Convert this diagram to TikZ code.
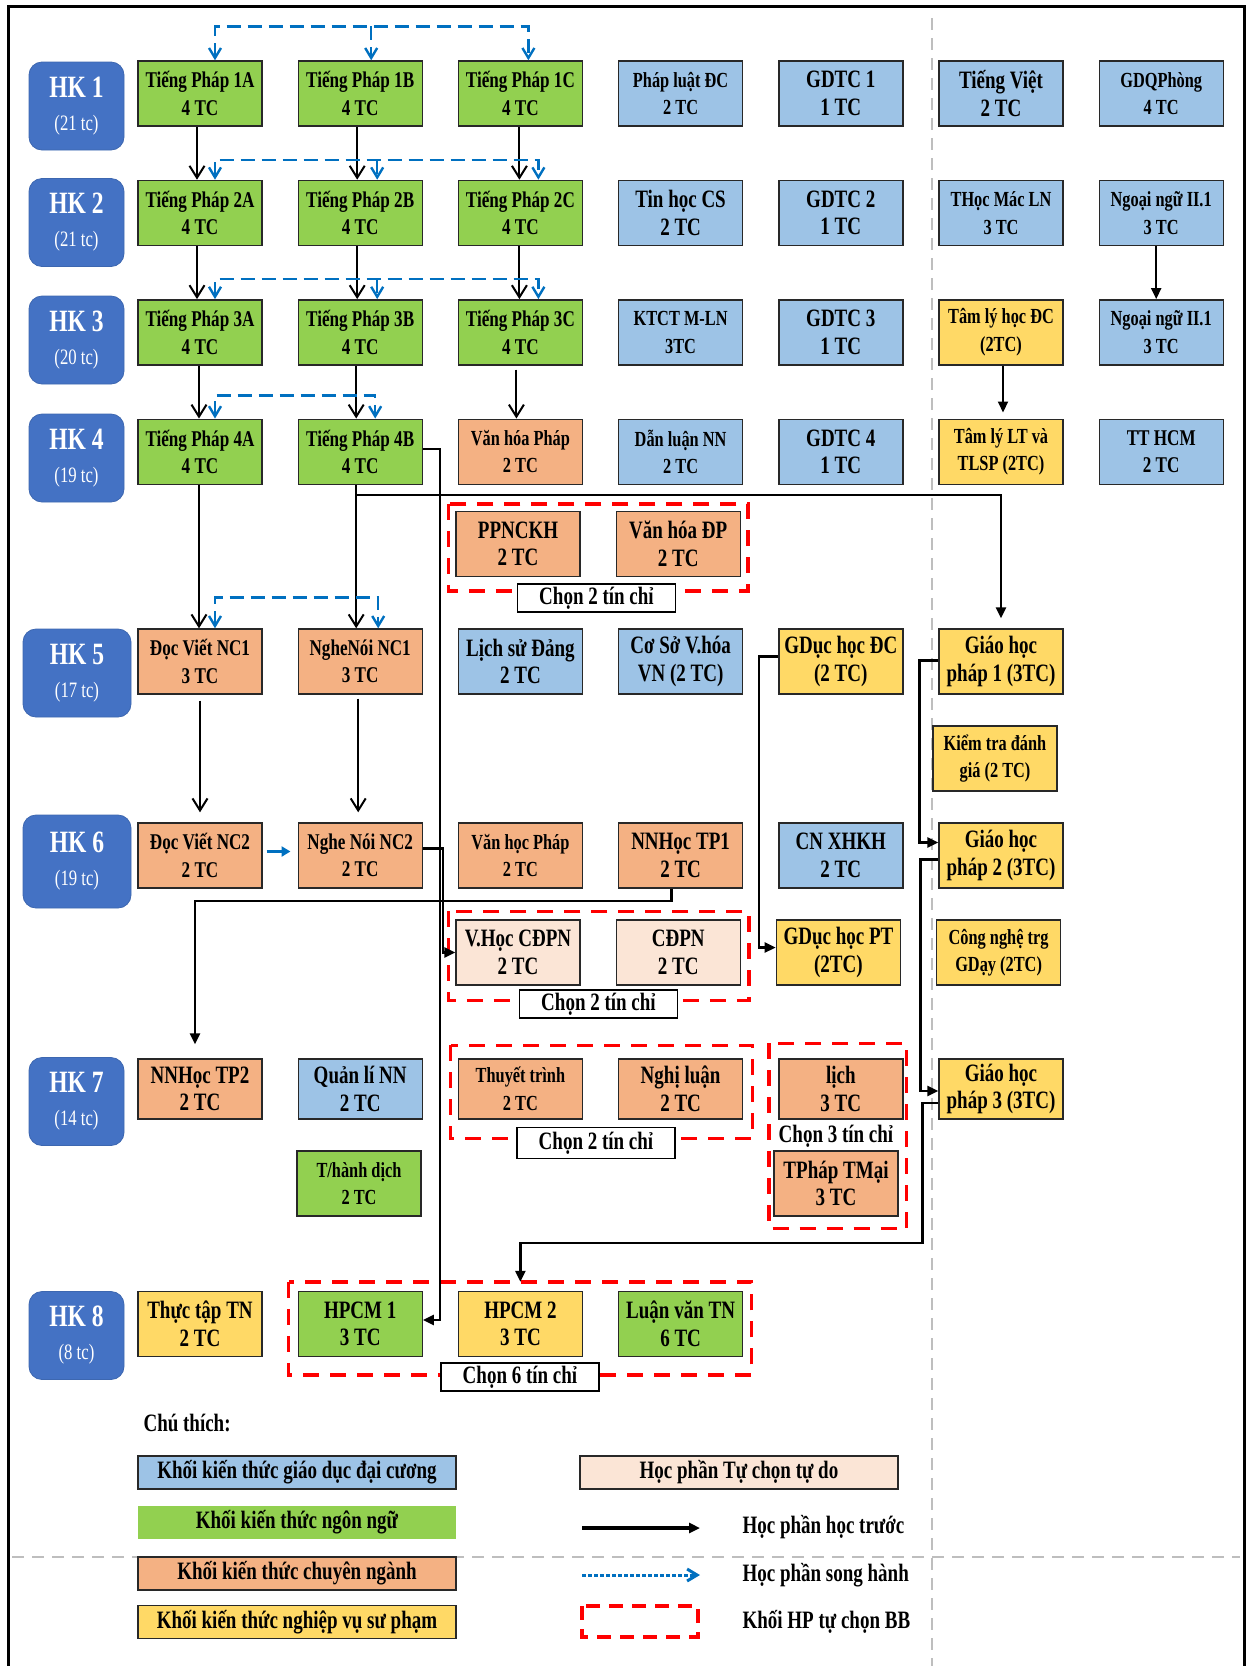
\documentclass[tikz,border=0pt]{standalone}
\usepackage{fontspec}
\setmainfont[FakeStretch=0.76]{Liberation Serif}
\usepackage{tikz}
\usetikzlibrary{
  arrows.meta,
  positioning,
  calc,
  backgrounds
}
\definecolor{HKBlue}{RGB}{68,114,196}
\definecolor{GenBlue}{RGB}{157,195,230}
\definecolor{LangGreen}{RGB}{146,208,80}
\definecolor{MajorOrange}{RGB}{244,177,131}
\definecolor{PedYellow}{RGB}{255,217,102}
\definecolor{FreePink}{RGB}{251,229,214}
\definecolor{CoBlue}{RGB}{0,112,192}
\definecolor{ChoiceRed}{RGB}{255,0,0}
\definecolor{DivGray}{RGB}{190,190,190}
\definecolor{BoxLine}{RGB}{40,40,40}
\newcommand{\fbig}{\fontsize{25}{27.5}\selectfont\bfseries}
\newcommand{\fnorm}{\fontsize{22.5}{27.5}\selectfont\bfseries}
\newcommand{\fsmall}{\fontsize{21.5}{27.5}\selectfont\bfseries}
\newcommand{\flegend}{\fontsize{25}{28}\selectfont\bfseries}
\newcommand{\fhk}{\fontsize{31}{33}\selectfont\bfseries}
\tikzset{
  course/.style={draw=BoxLine,line width=1.4pt,minimum width=124pt,minimum height=65pt,inner sep=0pt,align=center,font=\fnorm},
  genbox/.style={course,fill=GenBlue},
  langbox/.style={course,fill=LangGreen},
  majorbox/.style={course,fill=MajorOrange},
  pedbox/.style={course,fill=PedYellow},
  freebox/.style={course,fill=FreePink},
  hkbox/.style={fill=HKBlue,draw=HKBlue!90!black,line width=0.8pt,rounded corners=13pt,minimum width=95pt,minimum height=88pt,inner sep=0pt,align=center,text=white,font=\fontsize{22}{33}\selectfont},
  prereq/.style={-{Straight Barb[length=12pt,width=15pt]},line width=2pt,draw=black},
  coreq/.style={{Straight Barb[length=10pt,width=12pt]}-{Straight Barb[length=10pt,width=12pt]},line width=2.4pt,draw=CoBlue,dash pattern=on 14pt off 7pt},
  coreqone/.style={-{Straight Barb[length=10pt,width=12pt]},line width=2.4pt,draw=CoBlue,dash pattern=on 14pt off 7pt},
  coarrow/.style={-{Triangle[length=9pt,width=10pt]},line width=3pt,draw=CoBlue},
  linkarrow/.style={-{Triangle[length=11pt,width=10pt]},line width=2.4pt,draw=black},
  choiceframe/.style={draw=ChoiceRed,line width=3.5pt,dash pattern=on 16pt off 11pt},
  choicelabel/.style={draw=black,line width=1.2pt,fill=white,minimum width=158pt,minimum height=28pt,inner sep=0pt,font=\fbig},
  divider/.style={draw=DivGray,line width=1.5pt,dash pattern=on 12pt off 8pt},
  legendbox/.style={draw=BoxLine,line width=1.4pt,minimum width=318pt,minimum height=33pt,inner sep=0pt,font=\flegend},
  legendtext/.style={anchor=west,font=\flegend}
}

\begin{document}
\begin{tikzpicture}[x=1pt,y=-1pt,node distance=53pt and 34.8pt]
\useasboundingbox (0,0) rectangle (1250,1666);
\begin{scope}[on background layer]
\draw[divider] (932,18) -- (932,1666);
\draw[divider] (12,1557) -- (1240,1557);
\end{scope}
\draw[line width=3pt] (8,1666) -- (8,6) -- (1244,6) -- (1244,1666);

\node[hkbox] (hk1) at (76.5,106) {{\fhk HK 1}\\(21 tc)};
\node[hkbox] (hk2) at (76.5,222.5) {{\fhk HK 2}\\(21 tc)};
\node[hkbox] (hk3) at (76.5,340) {{\fhk HK 3}\\(20 tc)};
\node[hkbox] (hk4) at (76.5,458) {{\fhk HK 4}\\(19 tc)};
\node[hkbox, minimum width=108pt] (hk5) at (77,673) {{\fhk HK 5}\\(17 tc)};
\node[hkbox, minimum width=108pt, minimum height=93pt] (hk6) at (77,861.5) {{\fhk HK 6}\\(19 tc)};
\node[hkbox] (hk7) at (76.5,1101.5) {{\fhk HK 7}\\(14 tc)};
\node[hkbox] (hk8) at (76.5,1335.5) {{\fhk HK 8}\\(8 tc)};

\node[langbox] (t1a) at (200,93.5) {Tiếng Pháp 1A\\4 TC};
\node[langbox, right=of t1a] (t1b) {Tiếng Pháp 1B\\4 TC};
\node[langbox, right=of t1b] (t1c) {Tiếng Pháp 1C\\4 TC};
\node[genbox, right=of t1c, font=\fsmall] (plc) {Pháp luật ĐC\\2 TC};
\node[genbox, right=of plc, font=\fbig] (gdtc1) {GDTC 1\\1 TC};
\node[genbox, right=of gdtc1, font=\fbig] (tviet) {Tiếng Việt\\2 TC};
\node[genbox, right=of tviet, font=\fsmall] (gdqp) {GDQPhòng\\4 TC};

\node[langbox, below=of t1a] (t2a) {Tiếng Pháp 2A\\4 TC};
\node[langbox, below=of t1b] (t2b) {Tiếng Pháp 2B\\4 TC};
\node[langbox, below=of t1c] (t2c) {Tiếng Pháp 2C\\4 TC};
\node[genbox, below=of plc, font=\fbig] (tinhoc) {Tin học CS\\2 TC};
\node[genbox, below=of gdtc1, font=\fbig] (gdtc2) {GDTC 2\\1 TC};
\node[genbox, below=of tviet, font=\fsmall] (thmac) {THọc Mác LN\\3 TC};
\node[genbox, below=of gdqp, font=\fsmall] (nnii1) {Ngoại ngữ II.1\\3 TC};

\node[langbox, below=of t2a] (t3a) {Tiếng Pháp 3A\\4 TC};
\node[langbox, below=of t2b] (t3b) {Tiếng Pháp 3B\\4 TC};
\node[langbox, below=of t2c] (t3c) {Tiếng Pháp 3C\\4 TC};
\node[genbox, below=of tinhoc, font=\fsmall] (ktct) {KTCT M-LN\\3TC};
\node[genbox, below=of gdtc2, font=\fbig] (gdtc3) {GDTC 3\\1 TC};
\node[pedbox, below=of thmac, font=\fsmall] (tlhdc) {Tâm lý học ĐC\\(2TC)};
\node[genbox, below=of nnii1, font=\fsmall] (nnii2) {Ngoại ngữ II.1\\3 TC};

\node[langbox, below=of t3a] (t4a) {Tiếng Pháp 4A\\4 TC};
\node[langbox, below=of t3b] (t4b) {Tiếng Pháp 4B\\4 TC};
\node[majorbox, below=of t3c, font=\fsmall] (vhphap) {Văn hóa Pháp\\2 TC};
\node[genbox, below=of ktct, font=\fsmall] (dlnn) {Dẫn luận NN\\2 TC};
\node[genbox, below=of gdtc3, font=\fbig] (gdtc4) {GDTC 4\\1 TC};
\node[pedbox, below=of tlhdc, font=\fsmall] (tlsp) {Tâm lý LT và\\TLSP (2TC)};
\node[genbox, below=of nnii2, font=\fnorm] (tthcm) {TT HCM\\2 TC};

\node[majorbox, font=\fbig] (ppnckh) at (518,544) {PPNCKH\\2 TC};
\node[majorbox, right=of ppnckh, font=\fbig] (vhdp) {Văn hóa ĐP\\2 TC};

\node[majorbox] (dv1) at (200,661.5) {Đọc Viết NC1\\3 TC};
\node[majorbox, right=of dv1] (nn1) {NgheNói NC1\\3 TC};
\node[genbox, right=of nn1, font=\fbig] (lsdang) {Lịch sử Đảng\\2 TC};
\node[genbox, right=of lsdang, font=\fbig] (csvh) {Cơ Sở V.hóa\\VN (2 TC)};
\node[pedbox, right=of csvh, font=\fbig] (gdhdc) {GDục học ĐC\\(2 TC)};
\node[pedbox, right=of gdhdc, font=\fbig] (ghp1) {Giáo học\\pháp 1 (3TC)};
\node[pedbox, font=\fsmall] (ktdg) at (995,758.5) {Kiểm tra đánh\\giá (2 TC)};

\node[majorbox] (dv2) at (200,855.5) {Đọc Viết NC2\\2 TC};
\node[majorbox, right=of dv2] (nn2) {Nghe Nói NC2\\2 TC};
\node[majorbox, right=of nn2, font=\fsmall] (vhocp) {Văn học Pháp\\2 TC};
\node[majorbox, right=of vhocp, font=\fbig] (nnh1) {NNHọc TP1\\2 TC};
\node[genbox, right=of nnh1, font=\fbig] (cnxh) {CN XHKH\\2 TC};
\node[pedbox, right=of cnxh, font=\fbig] (ghp2) {Giáo học\\pháp 2 (3TC)};

\node[freebox, font=\fbig] (vhcdpn) at (518,952.5) {V.Học CĐPN\\2 TC};
\node[freebox, right=of vhcdpn, font=\fbig] (cdpn) {CĐPN\\2 TC};
\node[pedbox, right=of cdpn, font=\fbig] (gdhpt) {GDục học PT\\(2TC)};
\node[pedbox, right=of gdhpt, font=\fsmall] (cngd) {Công nghệ trg\\GDạy (2TC)};

\node[majorbox, font=\fbig, minimum height=60pt] (nnh2) at (200,1089) {NNHọc TP2\\2 TC};
\node[genbox, right=of nnh2, font=\fbig, minimum height=60pt] (qlnn) {Quản lí NN\\2 TC};
\node[majorbox, right=of qlnn, font=\fsmall, minimum height=60pt] (thtrinh) {Thuyết trình\\2 TC};
\node[majorbox, right=of thtrinh, font=\fbig, minimum height=60pt] (nghiluan) {Nghị luận\\2 TC};
\node[majorbox, right=of nghiluan, font=\fbig, minimum height=60pt] (lich) {lịch\\3 TC};
\node[pedbox, right=of lich, font=\fbig, minimum height=60pt] (ghp3) {Giáo học\\pháp 3 (3TC)};
\node[langbox, font=\fsmall] (thdich) at (359,1183.5) {T/hành dịch\\2 TC};
\node[majorbox, font=\fbig] (tptm) at (836,1183.5) {TPháp TMại\\3 TC};
\node[font=\fbig] (pick3) at (836,1136) {Chọn 3 tín chỉ};

\node[pedbox, font=\fbig] (thuctap) at (200,1324) {Thực tập TN\\2 TC};
\node[langbox, right=of thuctap, font=\fbig] (hpcm1) {HPCM 1\\3 TC};
\node[pedbox, right=of hpcm1, font=\fbig] (hpcm2) {HPCM 2\\3 TC};
\node[langbox, right=of hpcm2, font=\fbig] (lvtn) {Luận văn TN\\6 TC};

\draw[choiceframe] ($(ppnckh.north west)+(-7,-7)$) rectangle ($(vhdp.south east)+(7,14)$);
\draw[choiceframe] ($(vhcdpn.north west)+(-7,-8)$) rectangle ($(cdpn.south east)+(8,15)$);
\draw[choiceframe] ($(thtrinh.north west)+(-7,-13)$) rectangle ($(nghiluan.south east)+(9,19)$);
\draw[choiceframe] ($(lich.north west)+(-9,-15)$) rectangle ($(tptm.south east)+(8,12)$);
\draw[choiceframe] ($(hpcm1.north west)+(-9,-9)$) rectangle ($(lvtn.south east)+(8,18)$);
\node[choicelabel] (pick1) at (596.5,598) {Chọn 2 tín chỉ};
\node[choicelabel] (pick2) at (598.5,1004) {Chọn 2 tín chỉ};
\node[choicelabel, minimum height=31pt] (pick4) at (596,1143) {Chọn 2 tín chỉ};
\node[choicelabel] (pick6) at (520,1377) {Chọn 6 tín chỉ};

\draw[prereq] ([xshift=-3pt]t1a.south) -- ([xshift=-3pt]t2a.north);
\draw[prereq] ([xshift=-3pt]t1b.south) -- ([xshift=-3pt]t2b.north);
\draw[prereq] ([xshift=-1pt]t1c.south) -- ([xshift=-1pt]t2c.north);
\draw[prereq] ([xshift=-3pt]t2a.south) -- ([xshift=-3pt]t3a.north);
\draw[prereq] ([xshift=-3pt]t2b.south) -- ([xshift=-3pt]t3b.north);
\draw[prereq] ([xshift=-1pt]t2c.south) -- ([xshift=-1pt]t3c.north);
\draw[prereq] ([xshift=-1pt]t3a.south) -- ([xshift=-1pt]t4a.north);
\draw[prereq] ([xshift=-4pt]t3b.south) -- ([xshift=-4pt]t4b.north);
\draw[prereq, shorten <=4pt] ([xshift=-4pt]t3c.south) -- ([xshift=-4pt]vhphap.north);
\draw[prereq] ([xshift=-1pt]t4a.south) -- ([xshift=-1pt]dv1.north);
\draw[prereq] ([xshift=-4pt]t4b.south) -- ([xshift=-4pt]nn1.north);
\draw[prereq, shorten <=6pt, shorten >=10pt] (dv1.south) -- (dv2.north);
\draw[prereq, shorten <=4pt, shorten >=10pt] ([xshift=-2pt]nn1.south) -- ([xshift=-2pt]nn2.north);
\draw[linkarrow, line width=2pt] ([xshift=-5pt]nnii1.south) -- ([xshift=-5pt]nnii2.north);
\draw[linkarrow, line width=2pt, shorten >=6pt] ([xshift=2pt]tlhdc.south) -- ([xshift=2pt]tlsp.north);

\draw[coreq] ([xshift=15pt]t1a.north) -- ++(0,-34) -| ([xshift=8pt]t1c.north);
\draw[coreqone] ([xshift=11pt,yshift=34pt]t1b.north) -- ([xshift=11pt]t1b.north);
\draw[coreq] ([xshift=15pt]t2a.north) -- ++(0,-20) -| ([xshift=18pt]t2c.north);
\draw[coreqone] ([xshift=17pt,yshift=20pt]t2b.north) -- ([xshift=17pt]t2b.north);
\draw[coreq] ([xshift=15pt]t3a.north) -- ++(0,-20) -| ([xshift=18pt]t3c.north);
\draw[coreqone] ([xshift=17pt,yshift=20pt]t3b.north) -- ([xshift=17pt]t3b.north);
\draw[coreq] ([xshift=15pt]t4a.north) -- ++(0,-23) -| ([xshift=15pt]t4b.north);
\draw[coreq] ([xshift=15pt]dv1.north) -- ++(0,-31) -| ([xshift=18pt]nn1.north);
\draw[coarrow, shorten <=4pt, shorten >=7pt] ([yshift=4pt]dv2.east) -- ([yshift=4pt]nn2.west);

\draw[linkarrow, shorten >=10pt] ([xshift=-4pt]t4b.south) -- ++(0,10) -| (ghp1.north);
\draw[linkarrow] ([yshift=3pt]t4b.east) -- ++(17,0) |- ([yshift=4pt]hpcm1.east);
\draw[linkarrow] ([yshift=7pt]nn2.east) -- ++(20,0) |- (vhcdpn.west);
\draw[linkarrow, shorten >=14pt] ([xshift=-9pt]nnh1.south) -- ++(0,12) -| ([xshift=-5pt]nnh2.north);
\draw[linkarrow] ([yshift=5pt]gdhdc.west) -- ++(-19,0) |- ([yshift=5pt]gdhpt.west);
\draw[linkarrow] ([yshift=1pt]ghp1.west) -- ++(-19,0) |- ([yshift=13pt]ghp2.west);
\draw[linkarrow] ([yshift=-4pt]ghp2.west) -- ++(-18,0) |- ([yshift=-2pt]ghp3.west);
\draw[linkarrow] ([yshift=-14pt]ghp3.west) -- ++(-16,0) |- ([yshift=48pt]hpcm2.north) -- ([yshift=9pt]hpcm2.north);

\node[legendtext] (legtitle) at (140,1423) {Chú thích:};
\node[legendbox, fill=GenBlue] (leggen) at (297,1472.5) {Khối kiến thức giáo dục đại cương};
\node[legendbox, fill=LangGreen, draw=none] (leglang) at (297,1522.5) {Khối kiến thức ngôn ngữ};
\node[legendbox, fill=MajorOrange] (legmajor) at (297,1573.5) {Khối kiến thức chuyên ngành};
\node[legendbox, fill=PedYellow] (legped) at (297,1622) {Khối kiến thức nghiệp vụ sư phạm};
\node[legendbox, fill=FreePink] (legfree) at (739,1472.5) {Học phần Tự chọn tự do};
\coordinate (pre0) at (582,1528);
\coordinate (pre1) at (700,1528);
\draw[linkarrow, line width=4pt] (pre0) -- (pre1);
\node[legendtext] (legpre) at (739,1527) {Học phần học trước};
\coordinate (co0) at (582,1575);
\coordinate (co1) at (700,1575);
\draw[coreqone, line width=3pt, dash pattern=on 4pt off 2pt] (co0) -- (co1);
\node[legendtext] (legco) at (739,1575) {Học phần song hành};
\draw[choiceframe, line width=4pt, dash pattern=on 14pt off 9pt] (582,1606) rectangle (698,1637);
\node[legendtext] (legbb) at (739,1622) {Khối HP tự chọn BB};
\end{tikzpicture}
\end{document}
